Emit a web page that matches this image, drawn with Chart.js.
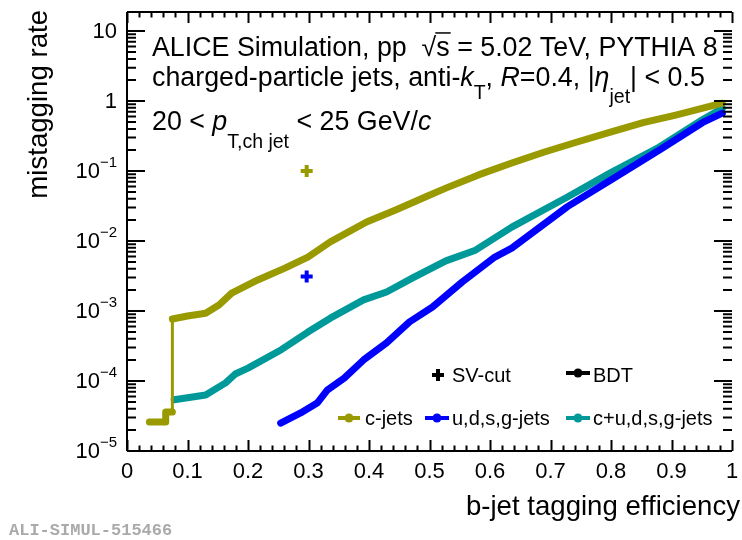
<!DOCTYPE html>
<html><head><meta charset="utf-8">
<script src="https://cdn.jsdelivr.net/npm/chart.js@4.4.1/dist/chart.umd.min.js"></script>
<style>html,body{margin:0;padding:0;background:#fff;overflow:hidden}canvas{display:block}</style>
</head><body>
<canvas id="c" width="742" height="540"></canvas>
<script>
// ---- data ----
const cJetsEff  = [0.037, 0.063, 0.064, 0.075, 0.075, 0.100, 0.130, 0.152, 0.173, 0.217, 0.261, 0.299, 0.336, 0.396, 0.445, 0.494, 0.527, 0.581, 0.636, 0.690, 0.744, 0.799, 0.853, 0.907, 0.984];
const cJetsRate = [2.6e-5, 2.6e-5, 3.6e-5, 3.6e-5, 7.7e-4, 8.5e-4, 9.3e-4, 1.22e-3, 1.8e-3, 2.8e-3, 4.1e-3, 5.9e-3, 9.7e-3, 1.87e-2, 2.8e-2, 4.3e-2, 5.7e-2, 8.8e-2, 0.13, 0.187, 0.26, 0.36, 0.49, 0.63, 0.93];
const udsgEff   = [0.254, 0.287, 0.315, 0.331, 0.359, 0.391, 0.429, 0.467, 0.505, 0.554, 0.608, 0.636, 0.728, 0.799, 0.880, 0.951, 0.984];
const udsgRate  = [2.5e-5, 3.5e-5, 4.9e-5, 7.4e-5, 1.1e-4, 2.0e-4, 3.5e-4, 7.0e-4, 1.14e-3, 2.6e-3, 5.9e-3, 7.9e-3, 0.031, 0.074, 0.20, 0.49, 0.67];
const mixEff    = [0.078, 0.130, 0.163, 0.179, 0.200, 0.255, 0.299, 0.336, 0.391, 0.429, 0.473, 0.527, 0.576, 0.636, 0.728, 0.799, 0.880, 0.951, 0.984];
const mixRate   = [5.4e-5, 6.3e-5, 9.4e-5, 1.26e-4, 1.53e-4, 2.8e-4, 5.0e-4, 7.9e-4, 1.44e-3, 1.87e-3, 3.0e-3, 5.2e-3, 7.4e-3, 0.0158, 0.0426, 0.094, 0.22, 0.54, 0.79];
const svCutEff  = [0.297, 0.297];
const svCutRate = [0.10, 3.1e-3];
const xTickValues = [0, 0.1, 0.2, 0.3, 0.4, 0.5, 0.6, 0.7, 0.8, 0.9, 1];
const xTickLabels = ['0', '0.1', '0.2', '0.3', '0.4', '0.5', '0.6', '0.7', '0.8', '0.9', '1'];
const yDecades    = [-5, -4, -3, -2, -1, 0, 1];
const yTickBases  = ['10', '10', '10', '10', '10', '1', '10'];
const yTickExps   = ['\u22125', '\u22124', '\u22123', '\u22122', '\u22121', '', ''];
const seriesNames = ['c-jets', 'u,d,s,g-jets', 'c+u,d,s,g-jets'];

const OLIVE = '#999900', BLUE = '#0000ff', TEAL = '#009999';
const FONT = '"Liberation Sans", Arial, Helvetica, sans-serif';

function pts(xs, ys) { return xs.map((x, i) => ({x: x, y: ys[i]})); }

function drawRich(ctx, x, y, parts, size) {
  ctx.textAlign = 'left'; ctx.textBaseline = 'alphabetic';
  for (const p of parts) {
    const s = p.size || size;
    ctx.font = (p.it ? 'italic ' : '') + s + 'px ' + FONT;
    ctx.fillText(p.t, x + (p.dx || 0), y + (p.dy || 0));
    const w = ctx.measureText(p.t).width;
    if (p.over) {
      ctx.save(); ctx.lineWidth = 1.5; ctx.strokeStyle = '#000';
      ctx.beginPath(); ctx.moveTo(x - 1, y - s * 0.86); ctx.lineTo(x + w + 1, y - s * 0.86); ctx.stroke(); ctx.restore();
    }
    x += w + (p.dx || 0) + (p.after || 0);
  }
  return x;
}

const decor = {
  id: 'decor',
  afterDraw(chart) {
    const ctx = chart.ctx, a = chart.chartArea;
    const xs = chart.scales.x, ys = chart.scales.y;
    ctx.save();
    ctx.strokeStyle = '#000'; ctx.fillStyle = '#000'; ctx.lineWidth = 2;
    // frame
    ctx.beginPath();
    ctx.moveTo(a.left, a.top); ctx.lineTo(a.right, a.top);
    ctx.moveTo(a.left, a.bottom); ctx.lineTo(a.right, a.bottom);
    ctx.moveTo(a.left, a.top); ctx.lineTo(a.left, a.bottom);
    ctx.stroke();
    // x ticks (inward, bottom and top)
    ctx.beginPath();
    for (let i = 0; i <= 50; i++) {
      const v = i / 50, px = Math.round(xs.getPixelForValue(v)) + 0.5;
      if (px > a.right + 1) continue;
      const L = (i % 5 === 0) ? 11 : 5.5;
      ctx.moveTo(px, a.bottom); ctx.lineTo(px, a.bottom - L);
      ctx.moveTo(px, a.top); ctx.lineTo(px, a.top + L);
    }
    ctx.stroke();
    // y ticks (log, inward, left and right)
    ctx.beginPath();
    for (let d = -5; d <= 1; d++) {
      for (let m = 1; m <= 9; m++) {
        const v = m * Math.pow(10, d);
        const py = ys.getPixelForValue(v);
        if (py < a.top - 0.5 || py > a.bottom + 0.5) continue;
        const L = (m === 1) ? 18 : 9;
        ctx.moveTo(a.left, py); ctx.lineTo(a.left + L, py);
        ctx.moveTo(a.right, py); ctx.lineTo(a.right - L, py);
      }
    }
    ctx.stroke();
    // x tick labels
    ctx.font = '22px ' + FONT; ctx.textAlign = 'center'; ctx.textBaseline = 'alphabetic';
    xTickValues.forEach((v, i) => ctx.fillText(xTickLabels[i], xs.getPixelForValue(v), 478));
    // y tick labels
    yDecades.forEach((d, i) => {
      const py = ys.getPixelForValue(Math.pow(10, d));
      const right = 117;
      ctx.textBaseline = 'middle';
      let ew = 0;
      if (yTickExps[i]) {
        ctx.font = '15px ' + FONT; ctx.textAlign = 'right';
        ew = ctx.measureText(yTickExps[i]).width;
        ctx.fillText(yTickExps[i], right, py - 8);
      }
      ctx.font = '22px ' + FONT; ctx.textAlign = 'right';
      ctx.fillText(yTickBases[i], right - ew, py + 1);
    });
    // axis titles
    ctx.textBaseline = 'alphabetic';
    ctx.font = '27.6px ' + FONT; ctx.textAlign = 'right';
    ctx.fillText('b-jet tagging efficiency', 740, 515);
    ctx.save(); ctx.translate(47, 10); ctx.rotate(-Math.PI / 2);
    ctx.fillText('mistagging rate', 0, 0); ctx.restore();
    // header text
    const H = 26.8, S = 19.5;
    drawRich(ctx, 152, 56, [
      {t: 'ALICE Simulation, pp  '}, {t: '\u221a'}, {t: 's', over: true}, {t: ' = 5.02 TeV, PYTHIA 8'}], H);
    drawRich(ctx, 152, 86, [
      {t: 'charged-particle jets, anti-'}, {t: 'k', it: true}, {t: 'T', size: S, dy: 13},
      {t: ', '}, {t: 'R', it: true}, {t: '=0.4, |'}, {t: '\u03b7', it: true}, {t: 'jet', size: S, dy: 17},
      {t: '| < 0.5'}], H);
    drawRich(ctx, 152, 130, [
      {t: '20 < '}, {t: 'p', it: true}, {t: 'T,ch jet', size: S, dy: 18}, {t: ' < 25 GeV/'}, {t: 'c', it: true}], H);
    // legend
    ctx.font = '20px ' + FONT; ctx.textAlign = 'left'; ctx.textBaseline = 'alphabetic';
    function legLine(x0, x1, y, col) {
      ctx.save(); ctx.strokeStyle = col; ctx.fillStyle = col; ctx.lineWidth = 4;
      ctx.beginPath(); ctx.moveTo(x0, y); ctx.lineTo(x1, y); ctx.stroke();
      ctx.beginPath(); ctx.arc((x0 + x1) / 2, y, 4.5, 0, Math.PI * 2); ctx.fill(); ctx.restore();
    }
    // SV-cut cross
    ctx.save(); ctx.strokeStyle = '#000'; ctx.lineWidth = 4; ctx.beginPath();
    ctx.moveTo(432, 375); ctx.lineTo(444, 375); ctx.moveTo(438, 369); ctx.lineTo(438, 381); ctx.stroke(); ctx.restore();
    ctx.fillStyle = '#000';
    ctx.fillText('SV-cut', 452, 382);
    legLine(566, 590, 373, '#000'); ctx.fillStyle = '#000'; ctx.fillText('BDT', 593, 382);
    legLine(338, 360, 418, OLIVE); ctx.fillStyle = '#000'; ctx.fillText(seriesNames[0], 365, 425);
    legLine(425, 449, 418, BLUE); ctx.fillStyle = '#000'; ctx.fillText(seriesNames[1], 452, 425);
    legLine(566, 590, 418, TEAL); ctx.fillStyle = '#000'; ctx.fillText(seriesNames[2], 593, 425);
    // watermark
    ctx.font = 'bold 17px "Liberation Mono", "Courier New", monospace'; ctx.fillStyle = '#aaaaaa';
    ctx.fillText('ALI-SIMUL-515466', 9, 535);
    ctx.restore();
  }
};

const lineDs = (label, data, col) => ({
  label, data, showLine: true, borderColor: col, backgroundColor: col,
  borderWidth: 7, pointRadius: 0, borderCapStyle: 'round', borderJoinStyle: 'round', tension: 0,
  segment: {
    borderWidth: c => (c.p0.parsed.x === c.p1.parsed.x && Math.abs(Math.log10(c.p1.parsed.y / c.p0.parsed.y)) > 0.5) ? 3 : 7
  }
});

new Chart(document.getElementById('c'), {
  type: 'scatter',
  data: {
    datasets: [
      lineDs(seriesNames[0], pts(cJetsEff, cJetsRate), OLIVE),
      lineDs(seriesNames[1], pts(udsgEff, udsgRate), BLUE),
      lineDs(seriesNames[2], pts(mixEff, mixRate), TEAL),
      { label: 'SV-cut', data: pts(svCutEff, svCutRate), showLine: false,
        pointStyle: 'cross', pointRadius: 6, borderWidth: 4,
        borderColor: [OLIVE, BLUE], backgroundColor: [OLIVE, BLUE] }
    ]
  },
  options: {
    responsive: false, animation: false, devicePixelRatio: 1,
    layout: { padding: { left: 127, right: 0, top: 12, bottom: 89 } },
    scales: {
      x: { type: 'linear', min: 0, max: 1, display: false },
      y: { type: 'logarithmic', min: 1e-5, max: 18.7, display: false }
    },
    plugins: { legend: { display: false }, tooltip: { enabled: false } },
    events: []
  },
  plugins: [decor]
});
</script>
</body></html>
